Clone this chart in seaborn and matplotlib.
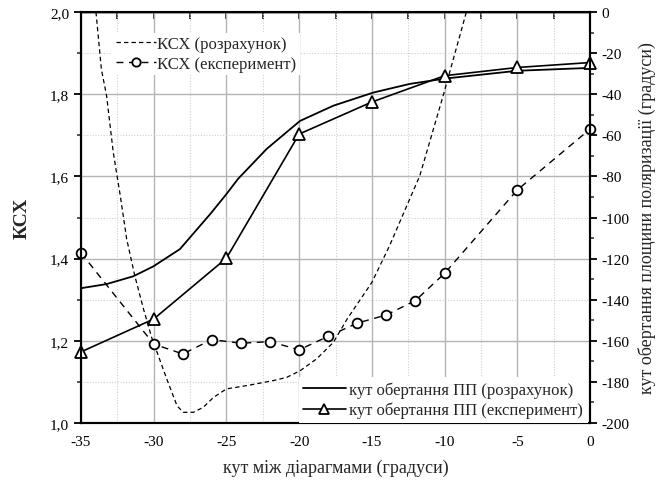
import numpy as np
import pandas as pd
import matplotlib
matplotlib.use("Agg")
import matplotlib.pyplot as plt
from matplotlib.ticker import MultipleLocator, FuncFormatter
from matplotlib.lines import Line2D
import seaborn as sns

# ---- data ----
# KSX (calculation), left axis
ksx_calc_x = [-33.97, -33.6, -33.24, -32.78, -32.3, -31.86, -31.3, -30.7, -30.14, -29.1,
              -28.4, -27.97, -27.28, -26.6, -25.9, -25.0, -23.6, -21.8, -20.86, -19.94,
              -18.8, -17.65, -16.7, -15.0, -13.8, -11.7, -10.1, -8.5]
ksx_calc_y = [2.0, 1.861, 1.796, 1.658, 1.553, 1.448, 1.358, 1.277, 1.208, 1.107,
              1.042, 1.026, 1.026, 1.038, 1.062, 1.083, 1.091, 1.103, 1.111, 1.127,
              1.156, 1.196, 1.253, 1.342, 1.43, 1.602, 1.796, 2.0]
# KSX (experiment), left axis
ksx_exp_x = [-35, -30, -28, -26, -24, -22, -20, -18, -16, -14, -12, -10, -5, 0]
ksx_exp_y = [1.414, 1.192, 1.168, 1.203, 1.194, 1.198, 1.178, 1.211, 1.243, 1.263,
             1.298, 1.364, 1.567, 1.715]
# rotation angle (calculation), right axis
rot_calc_x = [-35, -33.24, -31.4, -30.03, -28.2, -26.1, -25.0, -24.2, -22.23, -19.94,
              -17.65, -14.9, -12.4, -9.97, -5, 0]
rot_calc_y = [-134.4, -132.4, -128.6, -123.8, -115.4, -98.2, -88.6, -81.2, -66.6, -53.0,
              -45.6, -39.2, -35.0, -32.4, -28.6, -27.2]
# rotation angle (experiment), right axis
rot_exp_x = [-35, -30, -25, -20, -15, -10, -5, 0]
rot_exp_y = [-165.4, -149.4, -119.8, -59.4, -43.8, -31.0, -27.0, -24.6]

labels_left = ["КСХ (розрахунок)", "КСХ (експеримент)"]
labels_right = ["кут обертання ПП (розрахунок)", "кут обертання ПП (експеримент)"]

sns.set_style("white")
plt.rcParams['font.family'] = ['Liberation Serif', 'DejaVu Serif']
plt.rcParams['axes.unicode_minus'] = False

fig = plt.figure(figsize=(6.64, 4.85), dpi=100)
ax = fig.add_axes([81/664, 61/485, 509/664, 411/485])
ax2 = ax.twinx()

df1 = pd.DataFrame({"x": ksx_calc_x, "y": ksx_calc_y})
df2 = pd.DataFrame({"x": ksx_exp_x, "y": ksx_exp_y})
df3 = pd.DataFrame({"x": rot_calc_x, "y": rot_calc_y})
df4 = pd.DataFrame({"x": rot_exp_x, "y": rot_exp_y})

sns.lineplot(data=df1, x="x", y="y", ax=ax, sort=False, color="black", lw=0.9,
             linestyle=(0, (3.5, 2.5)))
sns.lineplot(data=df2, x="x", y="y", ax=ax, sort=False, color="black", lw=1.0,
             linestyle=(0, (5, 4)), marker="o", markersize=7, markerfacecolor="white",
             markeredgecolor="black", markeredgewidth=1.3, clip_on=False)
sns.lineplot(data=df3, x="x", y="y", ax=ax2, sort=False, color="black", lw=1.3)
sns.lineplot(data=df4, x="x", y="y", ax=ax2, sort=False, color="black", lw=1.2,
             marker="^", markersize=8, markerfacecolor="white",
             markeredgecolor="black", markeredgewidth=1.3, clip_on=False)

ax.set_xlim(-35, 0)
ax.set_ylim(1.0, 2.0)
ax2.set_ylim(-200, 0)

ax.xaxis.set_major_locator(MultipleLocator(5))
ax.xaxis.set_minor_locator(MultipleLocator(2.5))
ax.yaxis.set_major_locator(MultipleLocator(0.2))
ax.yaxis.set_minor_locator(MultipleLocator(0.1))
ax2.yaxis.set_major_locator(MultipleLocator(20))
ax2.yaxis.set_minor_locator(MultipleLocator(10))

ax.yaxis.set_major_formatter(FuncFormatter(lambda v, p: f"{v:.1f}".replace('.', ',')))
ax.xaxis.set_major_formatter(FuncFormatter(lambda v, p: f"{v:.0f}"))
ax2.yaxis.set_major_formatter(FuncFormatter(lambda v, p: f"{v:.0f}"))

ax.grid(True, which="major", color="#b4b4b4", lw=1.0, ls="-")
ax.grid(True, which="minor", color="#d0d0d0", lw=0.8, ls=(0, (1, 1.5)))
ax.set_axisbelow(True)

for a in (ax, ax2):
    for s in a.spines.values():
        s.set_linewidth(1.5)
        s.set_color("black")
ax.spines["top"].set_linewidth(1.0)

ax.tick_params(axis="both", which="major", direction="out", length=5, width=1.3,
               labelsize=11, colors="black")
ax.tick_params(axis="both", which="minor", direction="out", length=3, width=1.1)
ax2.tick_params(axis="y", which="major", direction="out", length=5, width=1.3,
                labelsize=11, colors="black")
ax2.tick_params(axis="y", which="minor", direction="out", length=3, width=1.1)

top = ax.secondary_xaxis("top")
top.xaxis.set_major_locator(MultipleLocator(5))
top.xaxis.set_minor_locator(MultipleLocator(2.5))
top.tick_params(which="major", direction="in", length=5, width=1.3, labeltop=False)
top.tick_params(which="minor", direction="in", length=5, width=1.3)
top.spines["top"].set_linewidth(1.0)

ax.set_xlabel("кут між діарагмами (градуси)", fontsize=13, labelpad=8)
ax.set_ylabel("КСХ", fontsize=14, fontweight="bold", labelpad=14)
ax2.set_ylabel("кут обертання площини поляризації (градуси)", fontsize=13, labelpad=6)

# legends
h1 = Line2D([], [], color="black", lw=0.9, linestyle=(0, (3.5, 2.5)))
h2 = Line2D([], [], color="black", lw=1.0, linestyle=(0, (5, 4)), marker="o",
            markersize=6, markerfacecolor="white", markeredgecolor="black", markeredgewidth=1.3)
h3 = Line2D([], [], color="black", lw=1.3)
h4 = Line2D([], [], color="black", lw=1.2, marker="^", markersize=7,
            markerfacecolor="white", markeredgecolor="black", markeredgewidth=1.3)

leg1 = ax2.legend([h1, h2], labels_left, loc="upper left", bbox_to_anchor=(0.055, 0.958),
                  fontsize=12, frameon=True, facecolor="white", edgecolor="none",
                  framealpha=1, handlelength=2.4, handletextpad=0.1, labelspacing=0.25,
                  borderpad=0.2, borderaxespad=0.2, fancybox=False)
ax2.add_artist(leg1)
leg2 = ax2.legend([h3, h4], labels_right, loc="lower right", bbox_to_anchor=(1.0, -0.005),
                  fontsize=12, frameon=True, facecolor="white", edgecolor="none",
                  framealpha=1, handlelength=2.6, handletextpad=0.2, labelspacing=0.25,
                  borderpad=0.25, borderaxespad=0.15, fancybox=False)

fig.savefig("out.png", dpi=100)
